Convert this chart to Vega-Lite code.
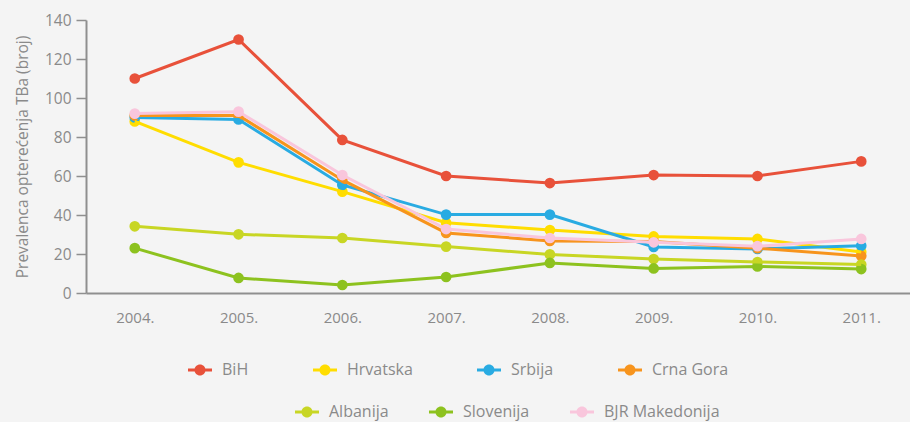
{
  "$schema": "https://vega.github.io/schema/vega-lite/v6.json",
  "width": 824,
  "height": 273,
  "autosize": {"type": "none"},
  "padding": {"left": 86, "top": 20, "right": 0, "bottom": 129},
  "background": "#f4f4f4",
  "config": {
    "view": {"stroke": null},
    "font": "Open Sans"
  },
  "data": {"values": [
    {"year": "2004.", "country": "BiH", "grp": "A", "v": 110},
    {"year": "2005.", "country": "BiH", "grp": "A", "v": 130},
    {"year": "2006.", "country": "BiH", "grp": "A", "v": 78.5},
    {"year": "2007.", "country": "BiH", "grp": "A", "v": 60},
    {"year": "2008.", "country": "BiH", "grp": "A", "v": 56.4},
    {"year": "2009.", "country": "BiH", "grp": "A", "v": 60.5},
    {"year": "2010.", "country": "BiH", "grp": "A", "v": 60},
    {"year": "2011.", "country": "BiH", "grp": "A", "v": 67.5},
    {"year": "2004.", "country": "Hrvatska", "grp": "A", "v": 88},
    {"year": "2005.", "country": "Hrvatska", "grp": "A", "v": 67},
    {"year": "2006.", "country": "Hrvatska", "grp": "A", "v": 52},
    {"year": "2007.", "country": "Hrvatska", "grp": "A", "v": 36},
    {"year": "2008.", "country": "Hrvatska", "grp": "A", "v": 32.3},
    {"year": "2009.", "country": "Hrvatska", "grp": "A", "v": 29},
    {"year": "2010.", "country": "Hrvatska", "grp": "A", "v": 27.7},
    {"year": "2011.", "country": "Hrvatska", "grp": "A", "v": 21},
    {"year": "2004.", "country": "Srbija", "grp": "A", "v": 90},
    {"year": "2005.", "country": "Srbija", "grp": "A", "v": 89},
    {"year": "2006.", "country": "Srbija", "grp": "A", "v": 55.4},
    {"year": "2007.", "country": "Srbija", "grp": "A", "v": 40.2},
    {"year": "2008.", "country": "Srbija", "grp": "A", "v": 40.2},
    {"year": "2009.", "country": "Srbija", "grp": "A", "v": 23.6},
    {"year": "2010.", "country": "Srbija", "grp": "A", "v": 22.6},
    {"year": "2011.", "country": "Srbija", "grp": "A", "v": 24.2},
    {"year": "2004.", "country": "Crna Gora", "grp": "A", "v": 91},
    {"year": "2005.", "country": "Crna Gora", "grp": "A", "v": 91},
    {"year": "2006.", "country": "Crna Gora", "grp": "A", "v": 58},
    {"year": "2007.", "country": "Crna Gora", "grp": "A", "v": 30.8},
    {"year": "2008.", "country": "Crna Gora", "grp": "A", "v": 26.7},
    {"year": "2009.", "country": "Crna Gora", "grp": "A", "v": 26.4},
    {"year": "2010.", "country": "Crna Gora", "grp": "A", "v": 23},
    {"year": "2011.", "country": "Crna Gora", "grp": "A", "v": 19},
    {"year": "2004.", "country": "Albanija", "grp": "B", "v": 34.2},
    {"year": "2005.", "country": "Albanija", "grp": "B", "v": 30.1},
    {"year": "2006.", "country": "Albanija", "grp": "B", "v": 28.2},
    {"year": "2007.", "country": "Albanija", "grp": "B", "v": 23.8},
    {"year": "2008.", "country": "Albanija", "grp": "B", "v": 19.8},
    {"year": "2009.", "country": "Albanija", "grp": "B", "v": 17.4},
    {"year": "2010.", "country": "Albanija", "grp": "B", "v": 15.9},
    {"year": "2011.", "country": "Albanija", "grp": "B", "v": 14.6},
    {"year": "2004.", "country": "Slovenija", "grp": "B", "v": 23},
    {"year": "2005.", "country": "Slovenija", "grp": "B", "v": 7.7},
    {"year": "2006.", "country": "Slovenija", "grp": "B", "v": 4.1},
    {"year": "2007.", "country": "Slovenija", "grp": "B", "v": 8.2},
    {"year": "2008.", "country": "Slovenija", "grp": "B", "v": 15.4},
    {"year": "2009.", "country": "Slovenija", "grp": "B", "v": 12.6},
    {"year": "2010.", "country": "Slovenija", "grp": "B", "v": 13.6},
    {"year": "2011.", "country": "Slovenija", "grp": "B", "v": 12.3},
    {"year": "2004.", "country": "BJR Makedonija", "grp": "B", "v": 92},
    {"year": "2005.", "country": "BJR Makedonija", "grp": "B", "v": 93},
    {"year": "2006.", "country": "BJR Makedonija", "grp": "B", "v": 60.5},
    {"year": "2007.", "country": "BJR Makedonija", "grp": "B", "v": 32.8},
    {"year": "2008.", "country": "BJR Makedonija", "grp": "B", "v": 28.2},
    {"year": "2009.", "country": "BJR Makedonija", "grp": "B", "v": 26},
    {"year": "2010.", "country": "BJR Makedonija", "grp": "B", "v": 24},
    {"year": "2011.", "country": "BJR Makedonija", "grp": "B", "v": 27.7}
  ]},
  "encoding": {
    "x": {
      "field": "year", "type": "ordinal", "title": null,
      "scale": {"type": "point", "padding": 0.47},
      "axis": {
        "labelAngle": 0, "ticks": false, "labelPadding": 17, "labelFontSize": 15,
        "labelColor": "#8a8a8a", "domainColor": "#8f8f8f", "domainWidth": 2,
        "grid": false
      }
    },
    "y": {
      "field": "v", "type": "quantitative",
      "title": "Prevalenca opterećenja TBa (broj)",
      "scale": {"domain": [0, 140], "nice": false},
      "axis": {
        "values": [0, 20, 40, 60, 80, 100, 120, 140],
        "grid": false, "tickSize": 10, "tickColor": "#8f8f8f", "tickWidth": 1.5,
        "domainColor": "#8f8f8f", "domainWidth": 2,
        "labelFontSize": 15.5, "labelColor": "#8a8a8a", "labelPadding": 5,
        "titleFontSize": 15.5, "titleFontWeight": "normal", "titleColor": "#8a8a8a", "titlePadding": 14
      }
    }
  },
  "layer": [
    {
      "transform": [{"filter": "datum.grp === 'A'"}],
      "encoding": {
        "color": {
          "field": "country", "type": "nominal",
          "scale": {"domain": ["BiH", "Hrvatska", "Srbija", "Crna Gora"], "range": ["#e8513a", "#ffdd00", "#29abe2", "#f7941d"]},
          "legend": {
            "title": null, "orient": "none", "legendX": 102, "legendY": 338,
            "direction": "horizontal", "columns": 4,
            "symbolType": "M-1,-0.13H1V0.13H-1Z M0.46,0A0.46,0.46 0 1,1 -0.46,0A0.46,0.46 0 1,1 0.46,0Z",
            "symbolSize": 576, "symbolStrokeWidth": 0, "labelFontSize": 16, "labelColor": "#8a8a8a",
            "labelOffset": 10, "columnPadding": 64
          }
        }
      },
      "layer": [
        {"mark": {"type": "point", "filled": true, "size": 115, "opacity": 1}},
        {"mark": {"type": "line", "strokeWidth": 3}}
      ]
    },
    {
      "transform": [{"filter": "datum.grp === 'B'"}],
      "encoding": {
        "color": {
          "field": "country", "type": "nominal",
          "scale": {"domain": ["Albanija", "Slovenija", "BJR Makedonija"], "range": ["#c8d624", "#8dc21f", "#f9c6dc"]},
          "legend": {
            "title": null, "orient": "none", "legendX": 209, "legendY": 380,
            "direction": "horizontal", "columns": 3,
            "symbolType": "M-1,-0.13H1V0.13H-1Z M0.46,0A0.46,0.46 0 1,1 -0.46,0A0.46,0.46 0 1,1 0.46,0Z",
            "symbolSize": 576, "symbolStrokeWidth": 0, "labelFontSize": 16, "labelColor": "#8a8a8a",
            "labelOffset": 10, "columnPadding": 40
          }
        }
      },
      "layer": [
        {"mark": {"type": "point", "filled": true, "size": 115, "opacity": 1}},
        {"mark": {"type": "line", "strokeWidth": 3}}
      ]
    }
  ],
  "resolve": {"scale": {"color": "independent"}}
}
